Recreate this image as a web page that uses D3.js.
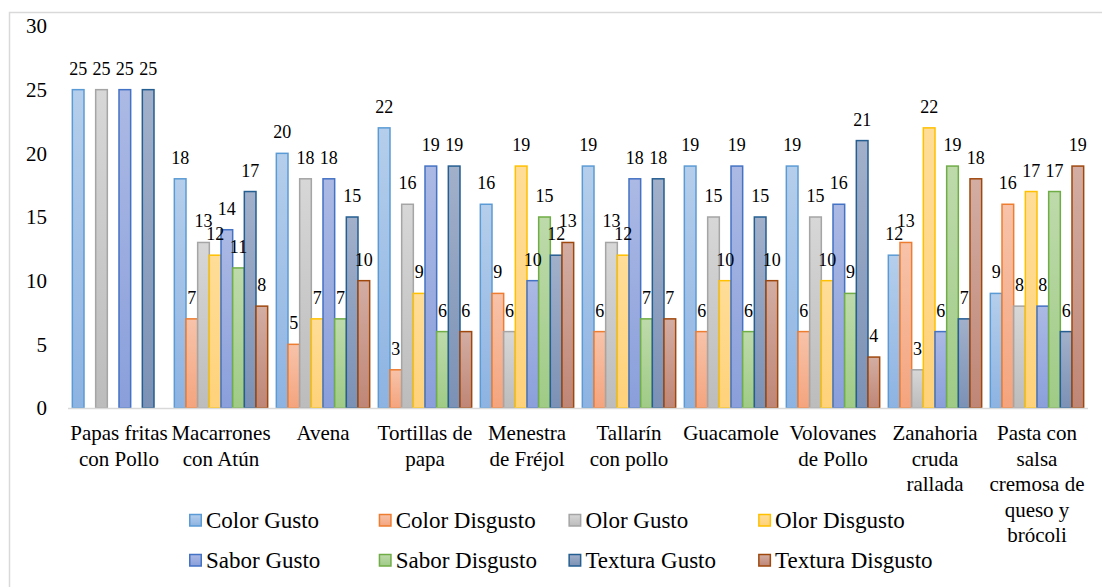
<!DOCTYPE html>
<meta charset="utf-8">
<script src="https://d3js.org/d3.v7.min.js"></script>
<body style="margin:0">
<script>

var categories = ["Papas fritas con Pollo", "Macarrones con Atún", "Avena", "Tortillas de papa",
                  "Menestra de Fréjol", "Tallarín con pollo", "Guacamole", "Volovanes de Pollo",
                  "Zanahoria cruda rallada", "Pasta con salsa cremosa de queso y brócoli"];

var seriesNames = ["Color Gusto", "Color Disgusto", "Olor Gusto", "Olor Disgusto",
                   "Sabor Gusto", "Sabor Disgusto", "Textura Gusto", "Textura Disgusto"];

var colorGusto      = [25, 18, 20, 22, 16, 19, 19, 19, 12, 9];
var colorDisgusto   = [0, 7, 5, 3, 9, 6, 6, 6, 13, 16];
var olorGusto       = [25, 13, 18, 16, 6, 13, 15, 15, 3, 8];
var olorDisgusto    = [0, 12, 7, 9, 19, 12, 10, 10, 22, 17];
var saborGusto      = [25, 14, 18, 19, 10, 18, 19, 16, 6, 8];
var saborDisgusto   = [0, 11, 7, 6, 15, 7, 6, 9, 19, 17];
var texturaGusto    = [25, 17, 15, 19, 12, 18, 15, 21, 7, 6];
var texturaDisgusto = [0, 8, 10, 6, 13, 7, 10, 4, 18, 19];

var yTicks = [0, 5, 10, 15, 20, 25, 30];

var seriesValues = [colorGusto, colorDisgusto, olorGusto, olorDisgusto,
                    saborGusto, saborDisgusto, texturaGusto, texturaDisgusto];

// stroke, gradient top, gradient bottom
var strokes = ["#5b9bd5", "#ed7d31", "#a5a5a5", "#ffc000", "#4472c4", "#70ad47", "#255e91", "#9e480e"];
var tops    = ["#b5ceeb", "#f7c3aa", "#d7d7d7", "#ffdd98", "#abb9e4", "#bedaab", "#a2b0ca", "#d3ada3"];
var bottoms = ["#8db3e2", "#f4a47e", "#bcbcbc", "#ffd27a", "#8a9fdb", "#9fcb86", "#7b91b5", "#bf8676"];

var fontFam = "'Liberation Serif', 'Times New Roman', monospace";

function setFont(sel, size) {
  sel.style("font-family", fontFam, "important")
     .style("font-size", size, "important");
}

var width = 1102,
    height = 587;

var svg = d3.select("body")
  .append("svg")
    .attr("width", width)
    .attr("height", height);

// outer chart border
svg.append("rect")
  .attr("x", 9.5).attr("y", 12.5)
  .attr("width", 1200).attr("height", 700)
  .attr("fill", "none")
  .attr("stroke", "#d9d9d9")
  .attr("stroke-width", 1.5);

var defs = svg.append("defs");
seriesNames.forEach(function(s, i) {
  var g = defs.append("linearGradient")
    .attr("id", "grad" + i)
    .attr("x1", 0).attr("y1", 0).attr("x2", 0).attr("y2", 1);
  g.append("stop").attr("offset", "0%").attr("stop-color", tops[i]);
  g.append("stop").attr("offset", "100%").attr("stop-color", bottoms[i]);
});

var x0 = d3.scaleBand()
  .domain(categories)
  .range([68, 1088])
  .paddingInner(0.085)
  .paddingOuter(0.0425);

var x1 = d3.scaleBand()
  .domain(seriesNames)
  .range([0, x0.bandwidth()]);

var y = d3.scaleLinear()
  .domain([0, 30])
  .range([408, 26]);

// y tick labels (no axis line)
svg.append("g").selectAll("text")
  .data(yTicks)
  .enter().append("text")
    .attr("x", 47)
    .attr("y", function(d) { return y(d); })
    .attr("dy", "0.35em")
    .attr("text-anchor", "end")
    .call(setFont, "21px")
    .text(function(d) { return d; });

var rows = [];
categories.forEach(function(c, ci) {
  seriesNames.forEach(function(s, si) {
    rows.push({ cat: c, series: s, si: si, value: seriesValues[si][ci] });
  });
});
var nonZero = rows.filter(function(d) { return d.value > 0; });

svg.append("g").selectAll("rect")
  .data(nonZero)
  .enter().append("rect")
    .attr("x", function(d) { return x0(d.cat) + x1(d.series); })
    .attr("y", function(d) { return y(d.value); })
    .attr("width", x1.bandwidth())
    .attr("height", function(d) { return y(0) - y(d.value); })
    .attr("fill", function(d) { return "url(#grad" + d.si + ")"; })
    .attr("stroke", function(d) { return strokes[d.si]; })
    .attr("stroke-width", 1.5);

// baseline
svg.append("line")
  .attr("x1", 68).attr("x2", 1088)
  .attr("y1", y(0) + 0.5).attr("y2", y(0) + 0.5)
  .attr("stroke", "#d9d9d9")
  .attr("stroke-width", 1.5);

// data labels
svg.append("g").selectAll("text")
  .data(nonZero)
  .enter().append("text")
    .attr("x", function(d) { return x0(d.cat) + x1(d.series) + x1.bandwidth() / 2; })
    .attr("y", function(d) { return y(d.value) - 15; })
    .attr("text-anchor", "middle")
    .call(setFont, "18px")
    .text(function(d) { return d.value; });

// category labels, wrapped to the band
var catG = svg.append("g");
categories.forEach(function(c) {
  var t = catG.append("text")
    .attr("text-anchor", "middle")
    .call(setFont, "21px");
  var words = c.split(" "), lines = [], line = [];
  var probe = catG.append("text").call(setFont, "21px");
  words.forEach(function(w) {
    var test = line.concat([w]).join(" ");
    probe.text(test);
    if (line.length && probe.node().getComputedTextLength() > 99) {
      lines.push(line.join(" "));
      line = [w];
    } else {
      line.push(w);
    }
  });
  lines.push(line.join(" "));
  probe.remove();
  lines.forEach(function(l, i) {
    t.append("tspan")
      .attr("x", x0(c) + x0.bandwidth() / 2)
      .attr("y", 440 + i * 25.5)
      .text(l);
  });
});

// legend
var legend = svg.append("g").selectAll("g")
  .data(seriesNames)
  .enter().append("g")
    .attr("transform", function(d, i) {
      return "translate(" + (189 + (i % 4) * 189.7) + "," + (520 + Math.floor(i / 4) * 40) + ")";
    });

legend.append("rect")
  .attr("x", 0.75).attr("y", -5.5)
  .attr("width", 11.5).attr("height", 11.5)
  .attr("fill", function(d, i) { return "url(#grad" + i + ")"; })
  .attr("stroke", function(d, i) { return strokes[i]; })
  .attr("stroke-width", 1.5);

legend.append("text")
  .attr("x", 17)
  .attr("y", 0)
  .attr("dy", "0.35em")
  .call(setFont, "23px")
  .text(function(d) { return d; });

</script>
</body>
